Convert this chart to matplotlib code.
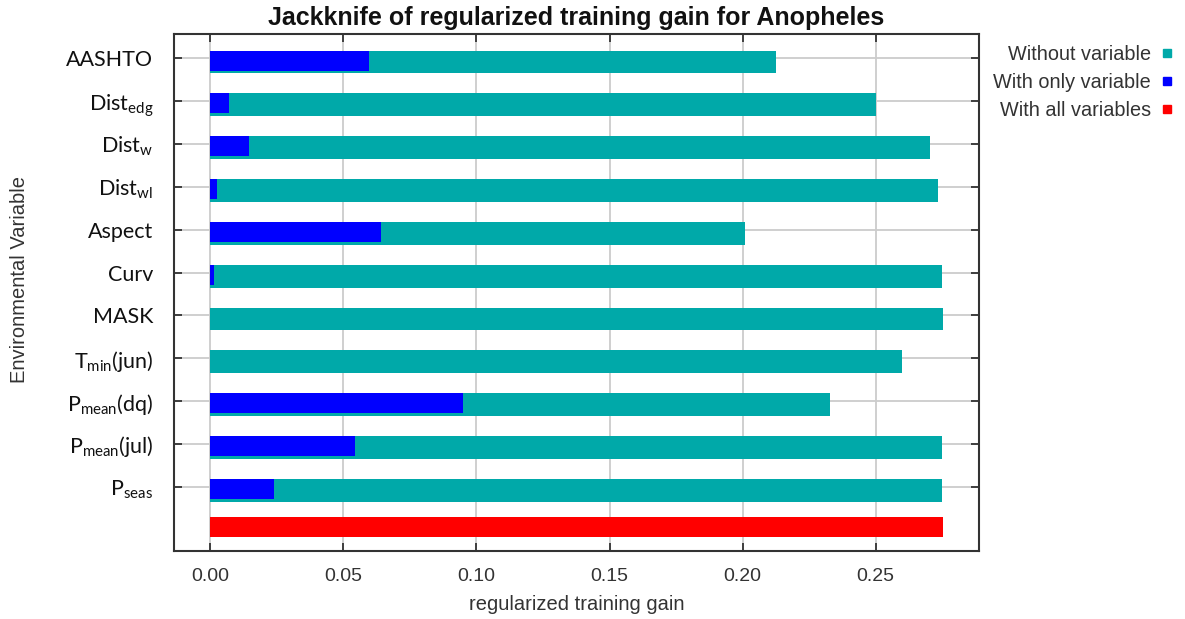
import numpy as np
import matplotlib
matplotlib.use("Agg")
import matplotlib.pyplot as plt
from matplotlib.lines import Line2D
from matplotlib.transforms import ScaledTranslation

# Jackknife results per environmental variable
variables = [
    "AASHTO",
    "Dist$_{\\mathrm{edg}}$",
    "Dist$_{\\mathrm{w}}$",
    "Dist$_{\\mathrm{wl}}$",
    "Aspect",
    "Curv",
    "MASK",
    "T$_{\\mathrm{min}}$(jun)",
    "P$_{\\mathrm{mean}}$(dq)",
    "P$_{\\mathrm{mean}}$(jul)",
    "P$_{\\mathrm{seas}}$",
]
without_variable = [0.2125, 0.250, 0.2705, 0.2735, 0.2010, 0.2748, 0.2754,
                    0.2598, 0.2330, 0.2748, 0.2748]
with_only_variable = [0.0597, 0.0071, 0.0145, 0.0025, 0.0642, 0.0014, 0.0,
                      0.0, 0.0950, 0.0544, 0.0239]
with_all_variables = 0.2754

x_ticks = [0.00, 0.05, 0.10, 0.15, 0.20, 0.25]
legend_labels = ["Without variable", "With only variable", "With all variables"]

teal = "#00A9A9"
blue = "#0000FF"
red = "#FF0000"

plt.rcParams["mathtext.fontset"] = "custom"
plt.rcParams["mathtext.rm"] = "Lato"
plt.rcParams["mathtext.it"] = "Lato:italic"
plt.rcParams["mathtext.bf"] = "Lato:bold"

W, H = 1185, 619
fig = plt.figure(figsize=(W / 100, H / 100), dpi=100)
ax = fig.add_axes([174 / W, 1 - 551 / H, (979 - 174) / W, (551 - 34) / H])

n = len(variables)
rows = np.arange(n)
ax.barh(rows + 0.085, without_variable, height=0.53, color=teal, zorder=2)
ax.barh(rows + 0.055, with_only_variable, height=0.467, color=blue, zorder=3)
ax.barh([n - 0.06], [with_all_variables], height=0.45, color=red, zorder=3)

ax.set_xlim(-0.01364, 0.2888)
ax.set_ylim(11.50, -0.567)

ax.set_xticks(x_ticks)
ax.set_xticklabels([f"{v:.2f}" for v in x_ticks], family="Liberation Sans",
                   fontsize=14, color="#333333")
ax.set_yticks(rows)
ax.set_yticklabels(variables, family="Lato", fontsize=15.5, color="#111111")

# nudge the variable names slightly upward
shift = ScaledTranslation(0, 2 / 100, fig.dpi_scale_trans)
for lbl in ax.get_yticklabels():
    lbl.set_transform(lbl.get_transform() + shift)

ax.tick_params(axis="both", direction="in", length=6, width=1.3,
               color="#333333", top=True, right=True)
ax.tick_params(axis="y", pad=15)
ax.tick_params(axis="x", pad=12)

ax.grid(True, color="#cccccc", linewidth=1.3)
ax.set_axisbelow(True)
for s in ax.spines.values():
    s.set_color("#333333")
    s.set_linewidth(1.5)

fig.text(576.5 / W, 1 - 18 / H,
         "Jackknife of regularized training gain for Anopheles",
         ha="center", va="center", fontsize=18, fontweight="bold",
         family="Liberation Sans", color="#111111")
fig.text(577 / W, 1 - 604 / H, "regularized training gain",
         ha="center", va="center", fontsize=14.5, family="Liberation Sans",
         color="#333333")
fig.text(20 / W, 1 - 279 / H, "Environmental Variable", rotation=90,
         ha="center", va="center", fontsize=14.5, family="Liberation Sans",
         color="#333333")

handles = [Line2D([], [], marker="s", linestyle="", color=c, markersize=6)
           for c in (teal, blue, red)]
fig.legend(handles, legend_labels, loc="upper right",
           bbox_to_anchor=(1187 / W, 1 - 31 / H), markerfirst=False,
           frameon=False, handlelength=0.6, handletextpad=0.5,
           labelspacing=0.45, borderpad=0.2,
           prop={"family": "Liberation Sans", "size": 14.3},
           labelcolor="#333333")

fig.savefig("out.png", dpi=100)
